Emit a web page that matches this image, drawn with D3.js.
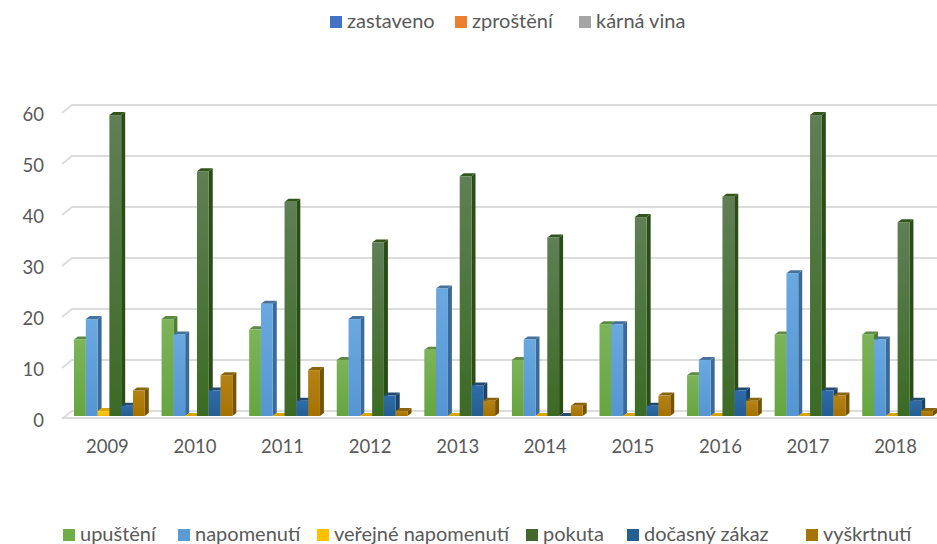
<!DOCTYPE html>
<html>
<head>
<meta charset="utf-8">
<script src="https://cdn.jsdelivr.net/npm/d3@7"></script>
<style>
  html, body { margin: 0; padding: 0; background: #fff; }
  text { font-family: Lato, "Open Sans", sans-serif; fill: #595959; }
</style>
</head>
<body>
<svg id="chart" width="937" height="544"></svg>
<script>
const years = ["2009", "2010", "2011", "2012", "2013", "2014", "2015", "2016", "2017", "2018"];
const yTicks = [0, 10, 20, 30, 40, 50, 60];

const upusteni = [15, 19, 17, 11, 13, 11, 18, 8, 16, 16];
const napomenuti = [19, 16, 22, 19, 25, 15, 18, 11, 28, 15];
const verejne = [1, 0, 0, 0, 0, 0, 0, 0, 0, 0];
const pokuta = [59, 48, 42, 34, 47, 35, 39, 43, 59, 38];
const docasny = [2, 5, 3, 4, 6, 0, 2, 5, 5, 3];
const vyskrtnuti = [5, 8, 9, 1, 3, 2, 4, 3, 4, 1];

const seriesNames = ["upuštění", "napomenutí", "veřejné napomenutí", "pokuta", "dočasný zákaz", "vyškrtnutí"];
const seriesValues = [upusteni, napomenuti, verejne, pokuta, docasny, vyskrtnuti];
const emptyNames = ["zastaveno", "zproštění", "kárná vina"];

// front face top/bottom, side, cap
const barColors = [
  ["#7cb45a", "#66a53f", "#4d7f30", "#5d8a42"],
  ["#6aa8e0", "#5596d2", "#3a6a99", "#44719c"],
  ["#ffc91f", "#f5b800", "#b98c00", "#d9a300"],
  ["#5f7f55", "#3b6b24", "#2a4d19", "#33551f"],
  ["#2f6cab", "#255e91", "#1a4367", "#234b70"],
  ["#b58316", "#a67200", "#765200", "#8a6410"]
];
const legendColors = ["#70ad47", "#5b9bd5", "#ffc000", "#43682b", "#255e91", "#a5730a"];
const topColors = ["#4472c4", "#ed7d31", "#a5a5a5"];

const topLegendX = [330, 455, 579];
const bottomLegendX = [63, 178, 317, 526, 627, 806];

const svg = d3.select("#chart");
const depthX = 4, depthY = 3;

const x0 = d3.scaleBand().domain(years).range([74, 933]).paddingInner(0.192).paddingOuter(0);
const x1 = d3.scaleBand().domain(d3.range(seriesNames.length)).range([0, x0.bandwidth()]);
const y = d3.scaleLinear().domain([0, 60]).range([416, 110]);

const defs = svg.append("defs");
const blur = defs.append("filter").attr("id", "soft");
blur.append("feGaussianBlur").attr("stdDeviation", 0.45);
barColors.forEach((c, i) => {
  const g = defs.append("linearGradient").attr("id", "front" + i)
    .attr("x1", 0).attr("y1", 0).attr("x2", 0).attr("y2", 1);
  g.append("stop").attr("offset", "0%").attr("stop-color", c[0]);
  g.append("stop").attr("offset", "100%").attr("stop-color", c[1]);
});

// gridlines: back wall plus the slanted piece running to the front edge
const grid = svg.append("g").attr("fill", "none").attr("stroke", "#dcdcdc").attr("stroke-width", 2);
yTicks.forEach(t => {
  const by = y(t) - 5;
  grid.append("path").attr("d", `M62,${by + 8}L72,${by}L937,${by}`);
});
// floor front edge
svg.append("line").attr("x1", 62).attr("x2", 937).attr("y1", y(0) + 2).attr("y2", y(0) + 2)
  .attr("stroke", "#dcdcdc").attr("stroke-width", 2);

// y labels
const yAxis = svg.append("g");
yTicks.forEach(t => {
  yAxis.append("text").attr("x", 44).attr("y", y(t) - 5 + 8 + 8)
    .attr("text-anchor", "end").attr("font-size", 18.5).text(t);
});

// bars
const bars = svg.append("g").attr("filter", "url(#soft)");
years.forEach((yr, j) => {
  seriesValues.forEach((vals, i) => {
    const xl = x0(yr) + x1(i), w = x1.bandwidth();
    const yt = y(vals[j]), yb = y(0);
    const g = bars.append("g");
    g.append("path").attr("fill", barColors[i][2])
      .attr("d", `M${xl + w},${yt}L${xl + w + depthX},${yt - depthY}L${xl + w + depthX},${yb - depthY}L${xl + w},${yb}Z`);
    g.append("path").attr("fill", barColors[i][3])
      .attr("d", `M${xl},${yt}L${xl + depthX},${yt - depthY}L${xl + w + depthX},${yt - depthY}L${xl + w},${yt}Z`);
    if (vals[j] > 0) {
      g.append("rect").attr("x", xl).attr("y", yt).attr("width", w).attr("height", yb - yt)
        .attr("fill", `url(#front${i})`);
    }
  });
});

// year labels
const xAxis = svg.append("g");
years.forEach(yr => {
  xAxis.append("text").attr("x", x0(yr) + x0.bandwidth() / 2 - 2).attr("y", 453)
    .attr("text-anchor", "middle").attr("font-size", 18.5).text(yr);
});

function legend(names, colors, xs, top) {
  const g = svg.append("g");
  names.forEach((name, i) => {
    g.append("rect").attr("x", xs[i]).attr("y", top).attr("width", 12).attr("height", 12).attr("fill", colors[i]);
    g.append("text").attr("x", xs[i] + 17).attr("y", top + 12).attr("font-size", 20).text(name);
  });
}
legend(emptyNames, topColors, topLegendX, 16);
legend(seriesNames, legendColors, bottomLegendX, 529);
</script>
</body>
</html>
